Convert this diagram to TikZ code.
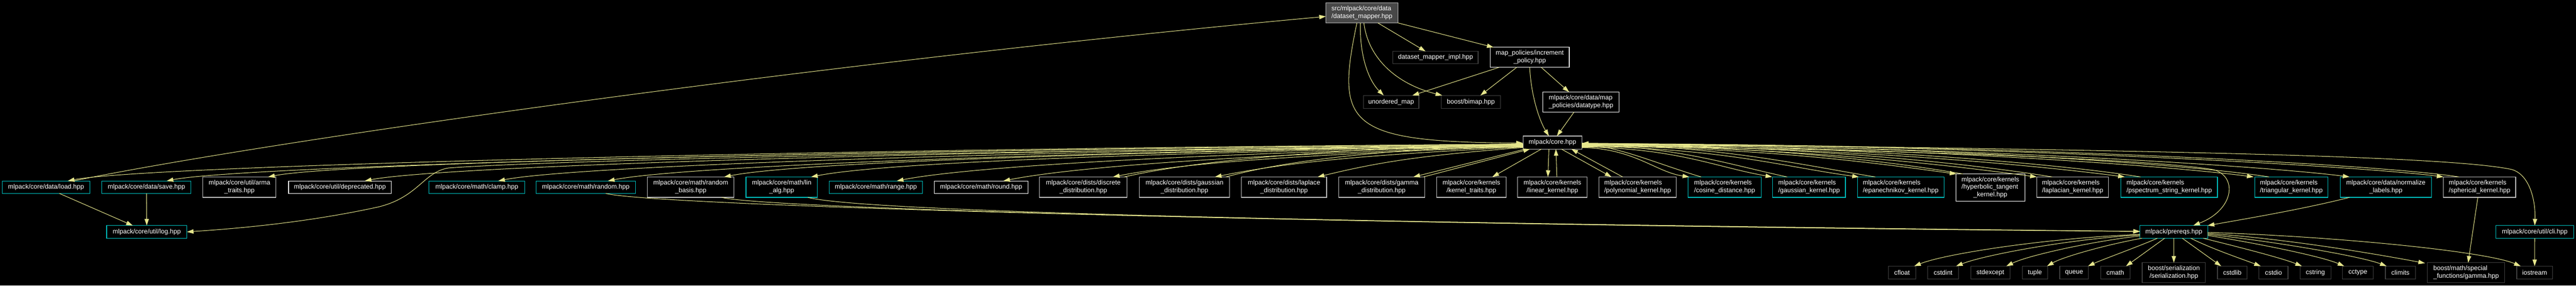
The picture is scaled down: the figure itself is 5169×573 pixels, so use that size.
\documentclass[tikz,border=0pt]{standalone}
\usepackage{fontspec}
\setmainfont{Liberation Sans}
\usetikzlibrary{arrows.meta,calc}
\definecolor{edgec}{RGB}{230,230,140}
\definecolor{cyanb}{RGB}{0,191,191}
\definecolor{grayb}{RGB}{191,191,191}
\definecolor{darkb}{RGB}{64,64,64}
\definecolor{topfill}{RGB}{72,72,72}
\newcommand\twol[2]{\begin{tabular}{@{}l@{}}#1\\\multicolumn{1}{@{}c@{}}{#2}\end{tabular}}
\newcommand\threel[3]{\begin{tabular}{@{}l@{}}#1\\#2\\\multicolumn{1}{@{}c@{}}{#3}\end{tabular}}
\newcommand\mknode[7]{\node[nbox,#6,minimum width={(#3-#2)*0.75pt},minimum height={(#5-#4)*0.75pt}] (#1) at ({(#2+#3)/2},{(#4+#5)/2}) {#7};}
\tikzset{
  nbox/.style={draw, line width=0.9pt, fill=black, text=white, inner sep=0pt, outer sep=0pt, font=\fontsize{9.75}{11.25}\selectfont},
  cy/.style={draw=cyanb}, gr/.style={draw=grayb}, wh/.style={draw=white}, dk/.style={draw=darkb},
  topn/.style={draw=grayb, fill=topfill},
  conn/.style={draw=edgec, line width=0.8pt, -{Triangle[length=10pt,width=6.5pt]}, fill=none}
}
\begin{document}
\begin{tikzpicture}[x=0.75pt,y=-0.75pt]
\fill[black] (0,0) rectangle (5169,573);
\useasboundingbox (0,0) rectangle (5169,573);
% top part
\mknode{dm}{2660.5}{2805}{6}{46}{topn}{\twol{src/mlpack/core/data}{/dataset\_mapper.hpp}}
\mknode{impl}{2795}{2966}{103}{128}{dk}{dataset\_mapper\_impl.hpp}
\mknode{inc}{2990}{3149}{95}{135}{wh}{\twol{map\_policies/increment}{\_policy.hpp}}
\mknode{umap}{2736}{2847}{191.5}{217.5}{dk}{unordered\_map}
\mknode{bimap}{2892}{3010.5}{191.5}{217.5}{dk}{boost/bimap.hpp}
\mknode{dtype}{3096}{3249}{184.6}{224.8}{wh}{\twol{mlpack/core/data/map}{\_policies/datatype.hpp}}
\mknode{core}{3056}{3174}{273}{299}{gr}{mlpack/core.hpp}
% row 2
\mknode{load}{5}{180}{363}{388}{cy}{mlpack/core/data/load.hpp}
\mknode{save}{204.5}{383.4}{363}{388}{cy}{mlpack/core/data/save.hpp}
\mknode{arma}{407}{554}{355}{396}{gr}{\twol{mlpack/core/util/arma}{\_traits.hpp}}
\mknode{depr}{579}{785}{363}{388}{wh}{mlpack/core/util/deprecated.hpp}
\mknode{clamp}{861}{1052.5}{363}{388}{cy}{mlpack/core/math/clamp.hpp}
\mknode{random}{1075.7}{1275}{363}{388}{cy}{mlpack/core/math/random.hpp}
\mknode{rbasis}{1299}{1473}{355}{396}{gr}{\twol{mlpack/core/math/random}{\_basis.hpp}}
\mknode{linalg}{1497}{1640}{355}{396}{cy}{\twol{mlpack/core/math/lin}{\_alg.hpp}}
\mknode{range}{1664}{1851}{363}{388}{cy}{mlpack/core/math/range.hpp}
\mknode{round}{1875}{2062.5}{363}{388}{wh}{mlpack/core/math/round.hpp}
\mknode{discrete}{2086}{2261.5}{355}{396}{gr}{\twol{mlpack/core/dists/discrete}{\_distribution.hpp}}
\mknode{gaussd}{2286}{2467.5}{355}{396}{gr}{\twol{mlpack/core/dists/gaussian}{\_distribution.hpp}}
\mknode{laplaced}{2491}{2662}{355}{396}{gr}{\twol{mlpack/core/dists/laplace}{\_distribution.hpp}}
\mknode{gammad}{2686}{2859}{355}{396}{gr}{\twol{mlpack/core/dists/gamma}{\_distribution.hpp}}
\mknode{ktraits}{2883}{3022}{355}{396}{gr}{\twol{mlpack/core/kernels}{/kernel\_traits.hpp}}
\mknode{linear}{3045}{3185}{355}{396}{gr}{\twol{mlpack/core/kernels}{/linear\_kernel.hpp}}
\mknode{poly}{3208.6}{3363.5}{355}{396}{gr}{\twol{mlpack/core/kernels}{/polynomial\_kernel.hpp}}
\mknode{cosine}{3387.6}{3533.6}{355}{396}{cy}{\twol{mlpack/core/kernels}{/cosine\_distance.hpp}}
\mknode{gaussk}{3557}{3703}{355}{396}{cy}{\twol{mlpack/core/kernels}{/gaussian\_kernel.hpp}}
\mknode{epan}{3727}{3900.7}{355}{396}{cy}{\twol{mlpack/core/kernels}{/epanechnikov\_kernel.hpp}}
\mknode{hyper}{3924.7}{4063}{349}{403.5}{wh}{\threel{mlpack/core/kernels}{/hyperbolic\_tangent}{\_kernel.hpp}}
\mknode{laplk}{4087}{4231}{355}{396}{gr}{\twol{mlpack/core/kernels}{/laplacian\_kernel.hpp}}
\mknode{pspec}{4256}{4449.5}{355}{396}{cy}{\twol{mlpack/core/kernels}{/pspectrum\_string\_kernel.hpp}}
\mknode{tri}{4524}{4671.5}{355}{396}{cy}{\twol{mlpack/core/kernels}{/triangular\_kernel.hpp}}
\mknode{norm}{4696}{4879}{355}{396}{cy}{\twol{mlpack/core/data/normalize}{\_labels.hpp}}
\mknode{spher}{4903}{5048}{355}{396}{gr}{\twol{mlpack/core/kernels}{/spherical\_kernel.hpp}}
% row 3
\mknode{log}{214}{375}{452.5}{478}{cy}{mlpack/core/util/log.hpp}
\mknode{prereqs}{4294}{4430}{452.5}{478}{cy}{mlpack/prereqs.hpp}
\mknode{cli}{5008}{5164.5}{452.5}{478}{cy}{mlpack/core/util/cli.hpp}
% row 4
\mknode{cfloat}{3789}{3844}{534}{560}{dk}{cfloat}
\mknode{cstdint}{3868}{3930}{534}{560}{dk}{cstdint}
\mknode{stdexcept}{3954.6}{4033}{534}{560}{dk}{stdexcept}
\mknode{tuple}{4057.7}{4108.6}{534}{560}{dk}{tuple}
\mknode{queue}{4133}{4190.7}{534}{560}{dk}{queue}
\mknode{cmath}{4215}{4274}{534}{560}{dk}{cmath}
\mknode{ser}{4298.5}{4425.5}{527}{567}{dk}{\twol{boost/serialization}{/serialization.hpp}}
\mknode{cstdlib}{4449.5}{4509}{534}{560}{dk}{cstdlib}
\mknode{cstdio}{4533}{4591}{534}{560}{dk}{cstdio}
\mknode{cstring}{4615}{4677}{534}{560}{dk}{cstring}
\mknode{cctype}{4700.5}{4762}{534}{560}{dk}{cctype}
\mknode{climits}{4786.5}{4846.6}{534}{560}{dk}{climits}
\mknode{gammah}{4871}{5026}{527}{567}{dk}{\twol{boost/math/special}{\_functions/gamma.hpp}}
\mknode{iostream}{5050}{5122}{534}{560}{dk}{iostream}

% edges from dataset_mapper
\draw[conn] ($(dm.south)+(32,0)$) -- ($(impl.north)+(-20,0)$);
\draw[conn] (dm.south east) -- ($(inc.north west)+(7,0)$);
\draw[conn] ($(dm.south)+(-3,0)$) .. controls (2728,110) and (2745,160) .. ($(umap.north)+(-15,0)$);
\draw[conn] ($(dm.south)+(4,0)$) .. controls (2745,115) and (2800,168) .. ($(bimap.north west)+(2,0)$);
\draw[conn] ($(dm.south)+(-10,0)$) .. controls (2680,250) and (2700,285) .. ($(core.west)+(0,1)$);
% increment policy
\draw[conn] ($(inc.south)+(-61,0)$) -- ($(umap.north east)+(-13,0)$);
\draw[conn] ($(inc.south)+(-26,0)$) -- ($(bimap.north east)+(-40,0)$);
\draw[conn] ($(inc.south)+(23,0)$) -- ($(dtype.north)+(-24,0)$);
\draw[conn] (inc.south) .. controls (3072,190) and (3088,240) .. ($(core.north)+(-7,0)$);
\draw[conn] ($(dtype.south)+(-14,0)$) -- ($(core.north)+(9,0)$);
% load -> dataset_mapper (back edge)
\draw[conn] ($(load.north)+(55,0)$) .. controls (500,290) and (1600,130) .. ($(dm.west)+(0,7)$);

% core -> left row
\draw[conn] ($(core.west)+(0,3)$) .. controls (1596,299) and (286,333) .. ($(load.north)+(43.5,0)$);
\draw[conn] ($(core.west)+(0,4)$) .. controls (1695,300) and (484.5,333) .. ($(save.north)+(40.5,0)$);
\draw[conn] ($(core.west)+(0,4)$) .. controls (1797,301) and (688,325) .. ($(arma.north)+(57.5,0)$);
\draw[conn] ($(core.west)+(0,5)$) .. controls (1894,302) and (882,333) .. ($(depr.north)+(50,0)$);
\draw[conn] ($(core.west)+(0,5)$) .. controls (2028,303) and (1149.6,333) .. ($(clamp.north)+(43,0)$);
\draw[conn] ($(core.west)+(0,6)$) .. controls (2138,304) and (1370,333) .. ($(random.north)+(44.5,0)$);
\draw[conn] ($(core.west)+(0,6)$) .. controls (2254,305) and (1603,325) .. ($(rbasis.north)+(67,0)$);
\draw[conn] ($(core.west)+(0,7)$) .. controls (2342,306) and (1777.6,325) .. ($(linalg.north)+(59,0)$);
\draw[conn] ($(core.west)+(0,7)$) .. controls (2428,307) and (1949.7,333) .. ($(range.north)+(42,0)$);
\draw[conn] ($(core.west)+(0,8)$) .. controls (2535,308) and (2163,333) .. ($(round.north)+(44.5,0)$);
\draw[conn] ($(core.west)+(0,8)$) .. controls (2645,309) and (2383,325) .. ($(discrete.north)+(59.5,0)$);
\draw[conn] ($(core.west)+(0,9)$) .. controls (2747,310) and (2587,325) .. ($(gaussd.north)+(61,0)$);
\draw[conn] ($(core.west)+(0,10)$) .. controls (2850,312) and (2767.6,325) .. ($(laplaced.north)+(67.5,0)$);
\draw[conn] ($(core.south west)+(5,0)$) -- ($(gammad.north)+(63.5,0)$);
\draw[conn] ($(core.south)+(-22,0)$) -- ($(ktraits.north)+(42,0)$);
\draw[conn] ($(core.south)+(-7,0)$) -- ($(linear.north)+(-9,0)$);
\draw[conn] ($(core.south)+(18,0)$) -- ($(poly.north)+(-52.5,0)$);
% back edges to core (left)
\draw[conn] ($(discrete.north)+(82,0)$) .. controls (2400,322) and (2650,300) .. ($(core.west)+(0,2)$);
\draw[conn] ($(gaussd.north)+(83,0)$) .. controls (2580,322) and (2760,302) .. ($(core.west)+(0,3)$);
\draw[conn] ($(gammad.north)+(83.5,0)$) -- ($(core.south west)+(14,0)$);
\draw[conn] ($(linear.north)+(9,0)$) -- ($(core.south)+(7,0)$);
\draw[conn] ($(poly.north)+(-30,0)$) -- ($(core.south)+(38,0)$);

% core -> right row
\draw[conn] ($(core.east)+(0,10)$) .. controls (3280,298) and (3322,345) .. ($(cosine.north west)+(2,0)$);
\draw[conn] ($(core.east)+(0,9)$) .. controls (3365,297) and (3441,335) .. ($(gaussk.north west)+(-1,0)$);
\draw[conn] ($(core.east)+(0,8)$) .. controls (3452,296) and (3580,335) .. ($(epan.north west)+(3,0)$);
\draw[conn] ($(core.east)+(0,7)$) .. controls (3550,296) and (3776,329) .. ($(hyper.north west)+(1,0)$);
\draw[conn] ($(core.east)+(0,6)$) .. controls (3630,295) and (3937,335) .. (laplk.north west);
\draw[conn] ($(core.east)+(0,5)$) .. controls (3718,294) and (4113,335) .. ($(pspec.north west)+(7.5,0)$);
\draw[conn] ($(core.east)+(0,4)$) .. controls (3848,293) and (4372,335) .. ($(tri.north west)+(-2,0)$);
\draw[conn] ($(core.east)+(0,3)$) .. controls (3944,292) and (4564,335) .. ($(norm.north west)+(18.5,0)$);
\draw[conn] ($(core.east)+(0,2)$) .. controls (4038,291) and (4753,335) .. (spher.north west);
% back edges to core (right)
\draw[conn] ($(cosine.north west)+(26,0)$) .. controls (3330,330) and (3250,295) .. ($(core.east)+(0,4)$);
\draw[conn] ($(gaussk.north west)+(29,0)$) .. controls (3470,330) and (3370,296) .. ($(core.east)+(0,4)$);
\draw[conn] ($(epan.north west)+(36,0)$) .. controls (3610,330) and (3460,294) .. ($(core.east)+(0,3)$);
\draw[conn] ($(hyper.north west)+(14,0)$) .. controls (3800,325) and (3560,294) .. ($(core.east)+(0,3)$);
\draw[conn] ($(laplk.north west)+(31,0)$) .. controls (3967,330) and (3640,293) .. ($(core.east)+(0,3)$);
\draw[conn] ($(pspec.north west)+(39,0)$) .. controls (4143,330) and (3725,292) .. ($(core.east)+(0,2)$);
\draw[conn] ($(tri.north west)+(29,0)$) .. controls (4400,330) and (3855,291) .. ($(core.east)+(0,2)$);
\draw[conn] ($(spher.north west)+(31,0)$) .. controls (4780,330) and (4045,290) .. ($(core.east)+(0,2)$);

% core -> log, prereqs, cli
\draw[conn] ($(core.west)+(0,9)$) .. controls (2000,300) and (1100,322) .. (900,337) .. controls (850,345) and (840,395) .. (760,415) .. controls (600,450) and (450,460) .. (log.east);
\draw[conn] ($(core.east)+(0,6)$) .. controls (3800,300) and (4300,318) .. (4440,340) .. controls (4490,352) and (4485,420) .. ($(prereqs.north)+(39,0)$);
\draw[conn] ($(core.east)+(0,1)$) .. controls (4200,300) and (4900,310) .. (5040,340) .. controls (5075,350) and (5088,400) .. (cli.north);

% others
\draw[conn] ($(load.south)+(26.5,0)$) -- ($(log.north)+(-28,0)$);
\draw[conn] (save.south) -- (log.north);
\draw[conn] ($(linalg.south)+(52.5,0)$) .. controls (1750,430) and (3000,450) .. ($(prereqs.west)+(0,-1)$);
\draw[conn] ($(random.south)+(40,0)$) .. controls (1320,415) and (2800,452) .. ($(prereqs.west)+(0,-1)$);
\draw[conn] ($(rbasis.south)+(62,0)$) .. controls (1540,420) and (2800,451) .. ($(prereqs.west)+(0,-1)$);
\draw[conn] ($(norm.south west)+(18.5,0)$) .. controls (4620,420) and (4500,440) .. (prereqs.north east);
\draw[conn] ($(spher.south)+(-3.5,0)$) -- ($(gammah.north)+(4,0)$);
\draw[conn] (cli.south) -- (iostream.north);

% prereqs -> bottom row
\draw[conn] ($(prereqs.west)+(0,5)$) .. controls (4100,478) and (3900,510) .. ($(cfloat.north east)+(-3,0)$);
\draw[conn] ($(prereqs.west)+(0,6)$) .. controls (4150,480) and (3980,512) .. ($(cstdint.north east)+(-5,0)$);
\draw[conn] ($(prereqs.west)+(0,8)$) .. controls (4200,484) and (4070,512) .. ($(stdexcept.north east)+(-7,0)$);
\draw[conn] ($(prereqs.south west)+(4,0)$) .. controls (4230,490) and (4140,515) .. ($(tuple.north east)+(-1,0)$);
\draw[conn] ($(prereqs.south west)+(35,0)$) .. controls (4290,495) and (4220,520) .. ($(queue.north east)+(-1,0)$);
\draw[conn] ($(prereqs.south west)+(49.5,0)$) -- ($(cmath.north east)+(-8,0)$);
\draw[conn] (prereqs.south) -- (ser.north);
\draw[conn] ($(prereqs.south)+(17,0)$) -- ($(cstdlib.north west)+(7.5,0)$);
\draw[conn] ($(prereqs.south)+(34,0)$) .. controls (4440,500) and (4500,520) .. ($(cstdio.north west)+(3.5,0)$);
\draw[conn] ($(prereqs.south east)+(-9,0)$) .. controls (4490,495) and (4580,518) .. ($(cstring.north west)+(4,0)$);
\draw[conn] ($(prereqs.east)+(0,7)$) .. controls (4540,490) and (4660,515) .. ($(cctype.north west)+(3.5,0)$);
\draw[conn] ($(prereqs.east)+(0,5)$) .. controls (4570,485) and (4740,515) .. ($(climits.north west)+(2.5,0)$);
\draw[conn] ($(prereqs.east)+(0,3)$) .. controls (4600,480) and (4780,512) .. ($(gammah.north west)+(-5,1)$);
\draw[conn] ($(prereqs.east)+(0,1)$) .. controls (4700,475) and (4990,505) .. ($(iostream.north west)+(8,0)$);
\end{tikzpicture}
\end{document}
